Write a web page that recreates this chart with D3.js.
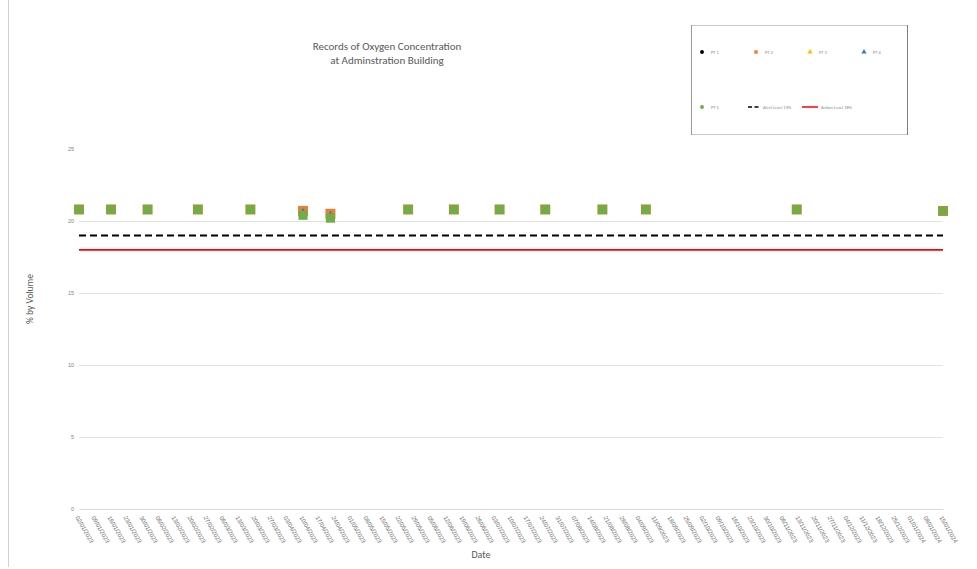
<!DOCTYPE html>
<html>
<head>
<meta charset="utf-8">
<script src="https://cdn.jsdelivr.net/npm/d3@7"></script>
<style>
  body { margin: 0; background: #fff; }
  svg { font-family: Calibri, "Liberation Sans", Carlito, Arial, sans-serif; }
</style>
</head>
<body>
<svg id="chart"></svg>
<script>
// tick labels on the date axis (weekly)
var tickLabels = [
  "02/01/2023","09/01/2023","16/01/2023","23/01/2023","30/01/2023",
  "06/02/2023","13/02/2023","20/02/2023","27/02/2023",
  "06/03/2023","13/03/2023","20/03/2023","27/03/2023",
  "03/04/2023","10/04/2023","17/04/2023","24/04/2023",
  "01/05/2023","08/05/2023","15/05/2023","22/05/2023","29/05/2023",
  "05/06/2023","12/06/2023","19/06/2023","26/06/2023",
  "03/07/2023","10/07/2023","17/07/2023","24/07/2023","31/07/2023",
  "07/08/2023","14/08/2023","21/08/2023","28/08/2023",
  "04/09/2023","11/09/2023","18/09/2023","25/09/2023",
  "02/10/2023","09/10/2023","16/10/2023","23/10/2023","30/10/2023",
  "06/11/2023","13/11/2023","20/11/2023","27/11/2023",
  "04/12/2023","11/12/2023","18/12/2023","25/12/2023",
  "01/01/2024","08/01/2024","15/01/2024"
];

// measurement dates
var dates = [
  "02/01/2023","16/01/2023","01/02/2023","23/02/2023","18/03/2023",
  "10/04/2023","22/04/2023","26/05/2023","15/06/2023","05/07/2023",
  "25/07/2023","19/08/2023","07/09/2023","12/11/2023","15/01/2024"
];

var pt1 = [20.8, 20.8, 20.8, 20.8, 20.8, 20.6, 20.4, 20.8, 20.8, 20.8, 20.8, 20.8, 20.8, 20.8, 20.7];
var pt2 = [20.8, 20.8, 20.8, 20.8, 20.8, 20.7, 20.5, 20.8, 20.8, 20.8, 20.8, 20.8, 20.8, 20.8, 20.7];
var pt3 = [20.8, 20.8, 20.8, 20.8, 20.8, 20.6, 20.4, 20.8, 20.8, 20.8, 20.8, 20.8, 20.8, 20.8, 20.7];
var pt4 = [20.8, 20.8, 20.8, 20.8, 20.8, 20.6, 20.4, 20.8, 20.8, 20.8, 20.8, 20.8, 20.8, 20.8, 20.7];
var pt5 = [20.8, 20.8, 20.8, 20.8, 20.8, 20.4, 20.2, 20.8, 20.8, 20.8, 20.8, 20.8, 20.8, 20.8, 20.7];

var alertLevel = 19;
var actionLevel = 18;
var yTicks = [0, 5, 10, 15, 20, 25];

var parse = d3.timeParse("%d/%m/%Y");

var W = 977, H = 569;
var svg = d3.select("#chart").attr("width", W).attr("height", H);

// chart frame
svg.append("line").attr("x1", 8.5).attr("x2", 8.5).attr("y1", 0).attr("y2", 567)
  .attr("stroke", "#d0d0d0");

var x = d3.scaleTime()
  .domain([parse(tickLabels[0]), parse(tickLabels[tickLabels.length - 1])])
  .range([79, 943]);
var y = d3.scaleLinear().domain([0, 25]).range([509, 149]);

// gridlines
svg.append("g").selectAll("line")
  .data(yTicks.slice(1, 5))
  .enter().append("line")
  .attr("x1", 79).attr("x2", 943)
  .attr("y1", function(d) { return Math.round(y(d)) + 0.5; })
  .attr("y2", function(d) { return Math.round(y(d)) + 0.5; })
  .attr("stroke", "#e3e3e3");

// y axis labels
var yAxis = svg.append("g")
  .attr("transform", "translate(79,0)")
  .call(d3.axisLeft(y).tickValues(yTicks).tickSize(0).tickPadding(5));
yAxis.select(".domain").remove();
yAxis.selectAll("text").style("font-size", "5.5px").attr("fill", "#7f7f7f");

// x axis
var xAxis = svg.append("g")
  .attr("transform", "translate(0,509)")
  .call(d3.axisBottom(x)
    .tickValues(tickLabels.map(parse))
    .tickFormat(d3.timeFormat("%d/%m/%Y"))
    .tickSize(0));
xAxis.select(".domain").attr("stroke", "#d9d9d9");
xAxis.selectAll("text")
  .style("font-size", "6px")
  .attr("fill", "#6f6f6f")
  .attr("text-anchor", "start")
  .attr("dy", "0.3em")
  .attr("transform", "translate(0,6) rotate(60)");

// limit lines
svg.append("line")
  .attr("x1", x.range()[0]).attr("x2", x.range()[1])
  .attr("y1", y(alertLevel)).attr("y2", y(alertLevel))
  .attr("stroke", "#000").attr("stroke-width", 2).attr("stroke-dasharray", "7,4");
svg.append("line")
  .attr("x1", x.range()[0]).attr("x2", x.range()[1])
  .attr("y1", y(actionLevel)).attr("y2", y(actionLevel))
  .attr("stroke", "#ff0000").attr("stroke-width", 1.8);

var series = [
  { name: "PT 1", values: pt1, color: "#000000", shape: d3.symbolCircle, size: 30 },
  { name: "PT 2", values: pt2, color: "#ed7d31", shape: d3.symbolSquare, size: 100 },
  { name: "PT 3", values: pt3, color: "#ffc000", shape: d3.symbolTriangle, size: 30 },
  { name: "PT 4", values: pt4, color: "#4472c4", shape: d3.symbolTriangle, size: 30 },
  { name: "PT 5", values: pt5, color: "#70ad47", shape: d3.symbolSquare, size: 84 }
];

series.forEach(function(s) {
  svg.append("g").selectAll("path")
    .data(s.values)
    .enter().append("path")
    .attr("d", d3.symbol().type(s.shape).size(s.size))
    .attr("transform", function(d, i) {
      return "translate(" + x(parse(dates[i])) + "," + y(d) + ")";
    })
    .attr("fill", s.color);
});

// title
var title = svg.append("text").attr("x", 387).attr("y", 50)
  .attr("text-anchor", "middle").attr("fill", "#595959").style("font-size", "11px");
title.append("tspan").attr("x", 387).text("Records of Oxygen Concentration");
title.append("tspan").attr("x", 387).attr("dy", 14).text("at Adminstration Building");

// axis titles
svg.append("text")
  .attr("transform", "translate(33,299) rotate(-90)")
  .attr("text-anchor", "middle").attr("fill", "#595959").style("font-size", "9.5px")
  .text("% by Volume");
svg.append("text")
  .attr("x", 481).attr("y", 558)
  .attr("text-anchor", "middle").attr("fill", "#595959").style("font-size", "10px")
  .text("Date");

// legend
var lg = svg.append("g");
lg.append("rect").attr("x", 691.5).attr("y", 25.5).attr("width", 216).attr("height", 109)
  .attr("fill", "#fff").attr("stroke", "#c8c8c8");
lg.append("line").attr("x1", 907.5).attr("x2", 907.5).attr("y1", 25).attr("y2", 135)
  .attr("stroke", "#7f7f7f");
lg.append("line").attr("x1", 691.5).attr("x2", 691.5).attr("y1", 25).attr("y2", 135)
  .attr("stroke", "#9a9a9a");

var legendShapes = [d3.symbolCircle, d3.symbolSquare, d3.symbolTriangle, d3.symbolTriangle, d3.symbolCircle];
var legendPos = [[702, 52], [756, 52], [810, 52], [864, 52], [702, 107]];
series.forEach(function(s, i) {
  var p = legendPos[i];
  lg.append("path")
    .attr("d", d3.symbol().type(legendShapes[i]).size(12))
    .attr("transform", "translate(" + p[0] + "," + p[1] + ")")
    .attr("fill", s.color);
  lg.append("text").attr("x", p[0] + 9).attr("y", p[1] + 2)
    .attr("fill", "#8a8a8a").style("font-size", "4.5px").text(s.name);
});
lg.append("line").attr("x1", 748).attr("x2", 760).attr("y1", 107).attr("y2", 107)
  .attr("stroke", "#000").attr("stroke-width", 1.5).attr("stroke-dasharray", "4,2.5");
lg.append("text").attr("x", 763).attr("y", 109)
  .attr("fill", "#8a8a8a").style("font-size", "4.5px").text("Alert Level 19%");
lg.append("line").attr("x1", 802).attr("x2", 818).attr("y1", 107).attr("y2", 107)
  .attr("stroke", "#ff0000").attr("stroke-width", 1.5);
lg.append("text").attr("x", 821).attr("y", 109)
  .attr("fill", "#8a8a8a").style("font-size", "4.5px").text("Action Level 18%");
</script>
</body>
</html>
